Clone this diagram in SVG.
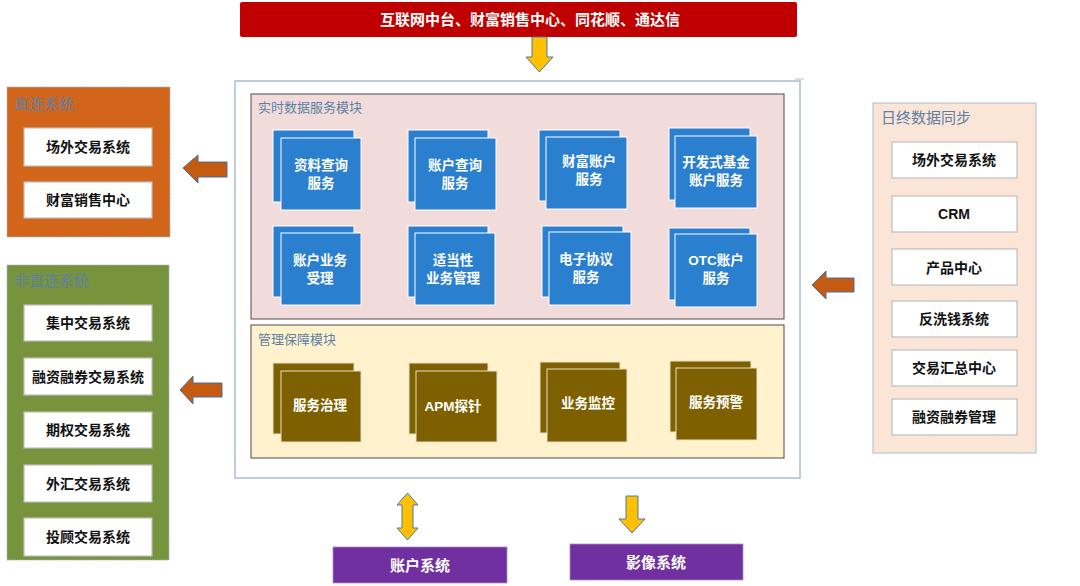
<svg xmlns="http://www.w3.org/2000/svg" width="1080" height="586" viewBox="0 0 1080 586">
<style>
text{font-family:"Liberation Sans","Noto Sans CJK SC",sans-serif;dominant-baseline:central;text-anchor:middle}
.ttl{font-size:15px;fill:#5d7fa6;text-anchor:start}
.mttl{font-size:13px;fill:#5d7fa6;text-anchor:start}
.wb{fill:#fff;stroke:#bfbfbf;stroke-width:1.2}
.wt{font-size:14px;font-weight:bold;fill:#111}
.blue{fill:#2a7fcf;stroke:#fff;stroke-width:1}
.brown{fill:#7f6000;stroke:#e8e0c8;stroke-width:1}
.ct{font-size:13.5px;font-weight:bold;fill:#fff}
.purple{fill:#7030a0;stroke:#b08cc8;stroke-width:0.8}
.pt{font-size:15px;font-weight:bold;fill:#fff}
.yarr{fill:#ffc000;stroke:#4a78b0;stroke-width:1}
.barr{fill:#c55a11;stroke:#4a6fa0;stroke-width:1}
</style>
<rect width="1080" height="586" fill="#fff"/>

<g id="top-source">
<rect x="240" y="2" width="557" height="35" rx="2" fill="#c00000"/>
<text x="530" y="19.5" style="font-size:15px;font-weight:bold;fill:#fff">互联网中台、财富销售中心、同花顺、通达信</text>
</g>

<g id="container">
<rect x="235" y="81" width="565" height="397" fill="#fff" stroke="#a8bdd6" stroke-width="1.5"/>
<line x1="795" y1="79" x2="804" y2="79" stroke="#a8bdd6" stroke-width="1"/>
</g>

<g id="realtime-module">
<rect x="251" y="94" width="533" height="225" fill="#f2dcdb" stroke="#4a4a4a" stroke-width="1"/>
<text class="mttl" x="258" y="107">实时数据服务模块</text>
</g>

<g id="svc-1">
<rect class="blue" x="273" y="130" width="81" height="72"/>
<rect class="blue" x="281" y="138" width="80" height="72"/>
<text class="ct" x="321" y="165">资料查询</text><text class="ct" x="321" y="183">服务</text>
</g>
<g id="svc-2">
<rect class="blue" x="408" y="130" width="80" height="72"/>
<rect class="blue" x="415" y="138" width="81" height="72"/>
<text class="ct" x="455" y="165">账户查询</text><text class="ct" x="455" y="183">服务</text>
</g>
<g id="svc-3">
<rect class="blue" x="539" y="130" width="81" height="71"/>
<rect class="blue" x="546" y="137" width="81" height="72"/>
<text class="ct" x="589" y="161">财富账户</text><text class="ct" x="589" y="179">服务</text>
</g>
<g id="svc-4">
<rect class="blue" x="669" y="128" width="81" height="72"/>
<rect class="blue" x="675" y="136" width="82" height="72"/>
<text class="ct" x="716" y="162">开发式基金</text><text class="ct" x="716" y="180">账户服务</text>
</g>
<g id="svc-5">
<rect class="blue" x="273" y="226" width="81" height="71"/>
<rect class="blue" x="281" y="233" width="80" height="72"/>
<text class="ct" x="320" y="260">账户业务</text><text class="ct" x="320" y="278">受理</text>
</g>
<g id="svc-6">
<rect class="blue" x="408" y="226" width="80" height="71"/>
<rect class="blue" x="415" y="233" width="80" height="72"/>
<text class="ct" x="453" y="260">适当性</text><text class="ct" x="453" y="278">业务管理</text>
</g>
<g id="svc-7">
<rect class="blue" x="542" y="226" width="81" height="71"/>
<rect class="blue" x="549" y="232" width="82" height="73"/>
<text class="ct" x="586" y="259">电子协议</text><text class="ct" x="586" y="277">服务</text>
</g>
<g id="svc-8">
<rect class="blue" x="669" y="228" width="81" height="72"/>
<rect class="blue" x="675" y="234" width="82" height="73"/>
<text class="ct" x="716" y="260">OTC账户</text><text class="ct" x="716" y="278">服务</text>
</g>

<g id="mgmt-module">
<rect x="251" y="325" width="533" height="133" fill="#fff2cc" stroke="#4a4a4a" stroke-width="1"/>
<text class="mttl" x="258" y="339">管理保障模块</text>
</g>
<g id="mgmt-1">
<rect class="brown" x="273" y="363" width="81" height="71"/>
<rect class="brown" x="281" y="371" width="80" height="71"/>
<text class="ct" x="320" y="405">服务治理</text>
</g>
<g id="mgmt-2">
<rect class="brown" x="409" y="363" width="79" height="71"/>
<rect class="brown" x="416" y="371" width="81" height="71"/>
<text class="ct" x="453" y="406">APM探针</text>
</g>
<g id="mgmt-3">
<rect class="brown" x="540" y="362" width="80" height="71"/>
<rect class="brown" x="547" y="369" width="80" height="73"/>
<text class="ct" x="588" y="403">业务监控</text>
</g>
<g id="mgmt-4">
<rect class="brown" x="670" y="361" width="81" height="71"/>
<rect class="brown" x="676" y="368" width="81" height="72"/>
<text class="ct" x="716" y="402">服务预警</text>
</g>

<g id="direct">
<rect x="7" y="87" width="163" height="150" fill="#d2651a" stroke="#9fb8d8" stroke-width="1" stroke-dasharray="1.5 1"/>
<text class="ttl" x="14" y="103">直连系统</text>
<rect class="wb" x="24" y="128" width="128" height="38"/>
<text class="wt" x="88" y="147">场外交易系统</text>
<rect class="wb" x="24" y="182" width="128" height="36"/>
<text class="wt" x="88" y="200">财富销售中心</text>
</g>

<g id="indirect">
<rect x="7" y="265" width="162" height="295" fill="#77933c" stroke="#9fb8d8" stroke-width="1" stroke-dasharray="1.5 1"/>
<text class="ttl" x="14" y="280">非直连系统</text>
<rect class="wb" x="24" y="305" width="128" height="36"/>
<text class="wt" x="88" y="323">集中交易系统</text>
<rect class="wb" x="24" y="358" width="128" height="37"/>
<text class="wt" x="88" y="377">融资融券交易系统</text>
<rect class="wb" x="24" y="412" width="128" height="36"/>
<text class="wt" x="88" y="430">期权交易系统</text>
<rect class="wb" x="24" y="465" width="128" height="37"/>
<text class="wt" x="88" y="484">外汇交易系统</text>
<rect class="wb" x="24" y="518" width="128" height="38"/>
<text class="wt" x="88" y="537">投顾交易系统</text>
</g>

<g id="eod-sync">
<rect x="873" y="103" width="163" height="350" fill="#fbe5d6" stroke="#a8bdd6" stroke-width="1"/>
<text class="ttl" x="881" y="117">日终数据同步</text>
<rect class="wb" x="892" y="142" width="125" height="36"/>
<text class="wt" x="954" y="160">场外交易系统</text>
<rect class="wb" x="892" y="196" width="125" height="36"/>
<text class="wt" x="954" y="214">CRM</text>
<rect class="wb" x="892" y="249" width="125" height="36"/>
<text class="wt" x="954" y="268">产品中心</text>
<rect class="wb" x="892" y="301" width="125" height="36"/>
<text class="wt" x="954" y="319">反洗钱系统</text>
<rect class="wb" x="892" y="350" width="125" height="36"/>
<text class="wt" x="954" y="368">交易汇总中心</text>
<rect class="wb" x="892" y="399" width="125" height="36"/>
<text class="wt" x="954" y="417">融资融券管理</text>
</g>

<g id="account-system">
<rect class="purple" x="333" y="547" width="174" height="36"/>
<text class="pt" x="420" y="565">账户系统</text>
</g>
<g id="image-system">
<rect class="purple" x="570" y="544" width="173" height="36"/>
<text class="pt" x="656" y="562">影像系统</text>
</g>

<g id="connectors">
<polygon class="yarr" points="532,37 547,37 547,57 553,57 539.5,72 526,57 532,57"/>
<polygon class="barr" points="183,168 198,155 198,162 227,162 227,177 198,177 198,183"/>
<polygon class="barr" points="180,390 193,376 193,383 222,383 222,397 193,397 193,404"/>
<polygon class="barr" points="812,285 826,271 826,278 854,278 854,292 826,292 826,299"/>
<polygon class="yarr" points="407.5,493 418,505 413,505 413,528 418,528 407.5,540 397,528 402,528 402,505 397,505"/>
<polygon class="yarr" points="626,496 638,496 638,519 645,519 632,533 619,519 626,519"/>
</g>
</svg>
